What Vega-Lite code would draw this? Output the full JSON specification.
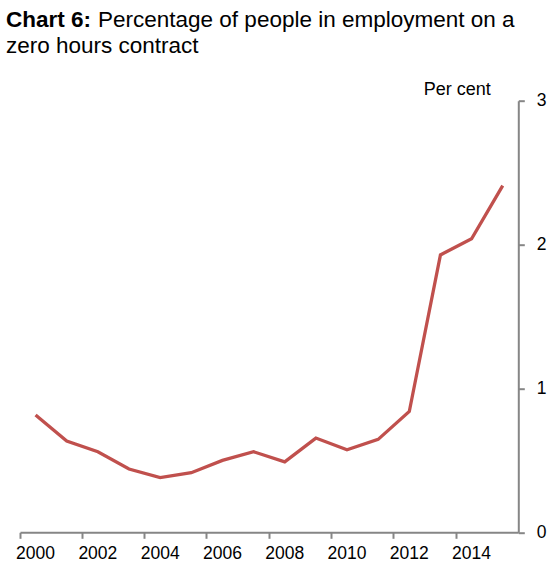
{
  "$schema": "https://vega.github.io/schema/vega-lite/v6.json",
  "autosize": {"type": "none"},
  "padding": {"left": 20, "top": 100.7, "right": 31.7, "bottom": 38.7},
  "width": 498.3,
  "height": 431.6,
  "background": "white",
  "config": {
    "view": {"stroke": null},
    "font": "Liberation Sans"
  },
  "title": {
    "text": "Chart 6:",
    "subtitle": ["\u200b\u00a0\u00a0\u00a0\u00a0\u00a0\u00a0\u00a0\u00a0\u00a0\u00a0\u00a0\u00a0\u00a0\u00a0\u2009Percentage of people in employment on a", "zero hours contract"],
    "anchor": "start",
    "frame": "group",
    "font": "Liberation Sans",
    "fontSize": 22.5,
    "fontWeight": "bold",
    "color": "black",
    "subtitleFont": "Liberation Sans",
    "subtitleFontSize": 22.5,
    "subtitleFontWeight": "normal",
    "subtitleColor": "black",
    "subtitleLineHeight": 26,
    "subtitlePadding": -22.5,
    "offset": 0,
    "dx": -14,
    "dy": -23
  },
  "data": {
    "values": [
      {"year": 2000, "pct": 0.815},
      {"year": 2001, "pct": 0.634},
      {"year": 2002, "pct": 0.56},
      {"year": 2003, "pct": 0.44},
      {"year": 2004, "pct": 0.38},
      {"year": 2005, "pct": 0.414},
      {"year": 2006, "pct": 0.5},
      {"year": 2007, "pct": 0.56},
      {"year": 2008, "pct": 0.49},
      {"year": 2009, "pct": 0.655},
      {"year": 2010, "pct": 0.574},
      {"year": 2011, "pct": 0.646},
      {"year": 2012, "pct": 0.84},
      {"year": 2013, "pct": 1.928},
      {"year": 2014, "pct": 2.04},
      {"year": 2015, "pct": 2.41}
    ]
  },
  "mark": {"type": "line", "color": "#C0504D", "strokeWidth": 3.3, "strokeJoin": "miter"},
  "encoding": {
    "x": {
      "field": "year",
      "type": "ordinal",
      "bandPosition": 0.5,
      "scale": {"type": "band", "paddingInner": 0, "paddingOuter": 0},
      "axis": {
        "title": null,
        "values": [2000, 2002, 2004, 2006, 2008, 2010, 2012, 2014],
        "bandPosition": 0,
        "labelAngle": 0,
        "labelFont": "Liberation Sans",
        "labelFontSize": 17.5,
        "labelColor": "black",
        "labelPadding": 6,
        "labelOverlap": false,
        "grid": false,
        "domainColor": "#868686",
        "domainWidth": 2,
        "tickColor": "#868686",
        "tickWidth": 2,
        "tickSize": 6
      }
    },
    "y": {
      "field": "pct",
      "type": "quantitative",
      "scale": {"domain": [0, 3], "nice": false},
      "axis": {
        "orient": "right",
        "title": "Per cent",
        "titleAngle": 0,
        "titleAlign": "right",
        "titleBaseline": "alphabetic",
        "titleX": -28,
        "titleY": -6,
        "titleFont": "Liberation Sans",
        "titleFontSize": 18,
        "titleFontWeight": "normal",
        "titleColor": "black",
        "values": [0, 1, 2, 3],
        "format": "d",
        "labelFont": "Liberation Sans",
        "labelFontSize": 17.5,
        "labelColor": "black",
        "labelPadding": 12,
        "grid": false,
        "domainColor": "#868686",
        "domainWidth": 2,
        "tickColor": "#868686",
        "tickWidth": 2,
        "tickSize": 6
      }
    }
  }
}
